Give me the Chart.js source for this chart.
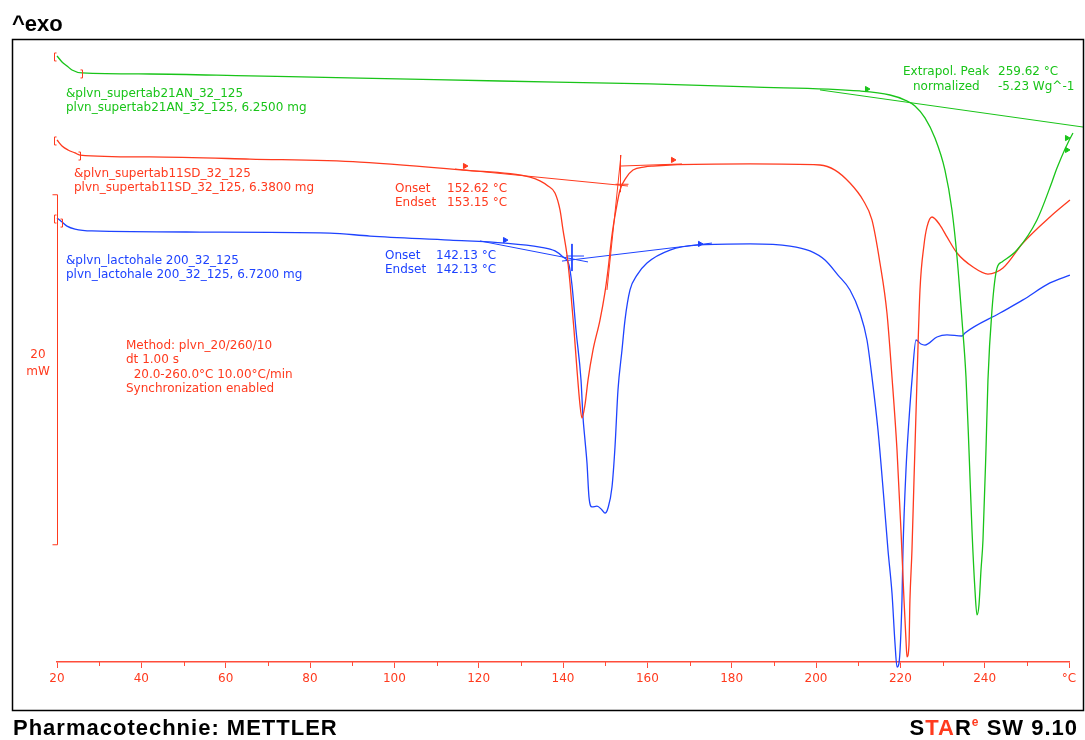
<!DOCTYPE html>
<html><head><meta charset="utf-8">
<script src="https://cdn.jsdelivr.net/npm/chart.js@4/dist/chart.umd.min.js"></script>
<style>html,body{margin:0;padding:0;background:#fff;}#wrap{width:1085px;height:740px;}</style>
</head><body><div id="wrap"><canvas id="c" width="1085" height="740"></canvas></div>
<script>
// ---- data (temperature °C, heat flow mW with display offsets) ----
const xTickLabels = ['20','40','60','80','100','120','140','160','180','200','220','240','°C'];

const greenT  = [20.0,21.19,22.37,23.56,25.93,42.05,65.77,91.86,125.06,160.63,184.35,210.43,217.54,221.10,223.47,225.84,228.21,230.58,232.24,233.44,234.62,235.57,236.28,236.99,237.70,238.18,238.65,239.13,239.60,240.31,240.78,241.73,242.92,244.10,247.66,252.40,255.96,257.15,260.94,262.84];
const greenMW = [34.63,34.29,34.06,33.83,33.66,33.60,33.49,33.37,33.20,33.03,32.86,32.63,32.40,32.11,31.77,31.09,29.94,28.11,25.83,23.14,19.54,16.29,12.11,7.54,4.11,2.69,3.26,5.26,6.97,12.11,16.11,20.11,22.51,22.86,23.54,25.26,27.43,28.23,30.23,30.86];

const redT  = [20.0,21.19,22.61,24.27,25.45,42.05,65.77,91.86,116.28,132.17,134.54,136.44,138.10,139.29,140.00,140.95,141.66,142.61,143.32,144.03,144.50,145.21,145.93,147.12,148.77,149.96,150.67,151.62,152.57,153.52,154.94,156.60,159.45,161.34,165.37,184.35,200.94,204.50,208.06,211.14,213.27,215.17,216.83,218.02,219.21,220.15,220.87,221.34,221.58,222.05,222.28,222.76,223.24,223.95,224.66,225.61,226.32,227.51,229.40,231.06,233.44,237.23,240.78,244.34,249.08,255.48,260.22];
const redMW = [29.83,29.49,29.26,29.09,28.97,28.86,28.74,28.57,28.11,27.71,27.49,27.20,26.80,25.83,24.69,23.26,21.66,18.97,16.69,14.69,13.94,14.69,16.11,17.83,19.54,21.14,22.40,24.40,25.83,26.97,27.66,28.11,28.29,28.34,28.40,28.46,28.40,28.11,27.37,26.40,25.26,22.80,19.94,16.29,12.11,7.54,3.54,1.26,0.29,0.97,3.54,6.40,10.40,16.11,21.26,23.83,24.86,25.43,24.97,24.29,23.37,22.57,22.17,22.51,23.94,25.43,26.40];

const blueT  = [20.0,21.19,22.37,24.27,28.30,53.91,84.74,94.23,113.20,126.24,134.54,138.10,140.00,141.42,142.13,143.08,144.27,144.74,145.21,145.69,146.16,146.87,148.06,149.25,149.96,150.67,151.62,152.33,153.04,153.99,154.70,155.89,157.55,159.92,165.37,172.49,184.35,193.83,198.57,202.13,205.21,208.06,210.43,212.09,213.27,214.70,216.12,217.07,218.02,218.73,219.21,219.68,220.39,220.63,221.34,222.05,222.76,223.71,224.89,225.84,228.69,231.06,234.62,235.33,243.63,249.08,255.48,260.22];
const blueMW = [25.37,25.14,24.91,24.74,24.63,24.57,24.51,24.34,24.11,23.94,23.71,23.49,23.14,22.69,21.54,18.97,16.11,14.00,12.69,11.37,9.43,8.86,8.91,8.69,8.51,8.80,10.00,12.29,15.54,17.83,19.54,21.26,22.11,22.80,23.54,23.83,23.89,23.77,23.49,22.97,22.11,21.26,19.94,18.40,16.29,13.26,9.26,6.40,3.94,1.09,-0.29,-0.06,3.54,6.40,10.97,13.83,16.11,18.40,18.17,18.11,18.57,18.69,18.63,18.80,19.94,20.69,21.66,22.11];

// evaluation constructions (baselines / tangents)
const greenBaseT = [200.94,263.31], greenBaseMW = [32.69,30.57];
const redBaseT = [114.39,155.41], redBaseMW = [28.17,27.20];
const redTanT = [153.75,150.43], redTanMW = [28.97,21.26];
const redBase2T = [153.52,168.22], redBase2MW = [28.34,28.46];
const blueBaseT = [120.31,145.93], blueBaseMW = [24.06,22.86];
const blueBase2T = [139.76,175.33], blueBase2MW = [22.91,23.94];
const blueCrossVT = [142.13,142.13], blueCrossVMW = [23.89,22.34];
const blueCrossHT = [140.71,144.98], blueCrossHMW = [23.20,23.20];
const greenFlagT = [212.09,259.52,259.52], greenFlagMW = [32.74,29.94,29.26];
const redFlagT = [116.75,166.08], redFlagMW = [28.34,28.69];
const blueFlagT = [126.24,172.49], blueFlagMW = [24.11,23.89];
const scaleBarMW = [6.7,26.7];

const GREEN='#19c419', RED='#ff3a1e', BLUE='#1e43ff', AXRED='#ff4d3a';
const zip=(a,b)=>a.map((v,i)=>({x:v,y:b[i]}));
const curve=(t,m,c,w)=>({data:zip(t,m),borderColor:c,borderWidth:w,pointRadius:0,cubicInterpolationMode:'monotone',clip:false,fill:false});
const seg=(t,m,c)=>({data:zip(t,m),borderColor:c,borderWidth:1,pointRadius:0,tension:0,clip:false,fill:false});
const flags=(t,m,c)=>({type:'scatter',data:zip(t,m),showLine:false,pointStyle:'triangle',rotation:90,pointRadius:3,backgroundColor:c,borderColor:c,borderWidth:1,clip:false});

const FONT='12px "DejaVu Sans"';
const deco={
 id:'deco',
 afterDraw(chart){
  const ctx=chart.ctx, xs=chart.scales.x, ys=chart.scales.y;
  ctx.save();
  // frame
  ctx.strokeStyle='#000'; ctx.lineWidth=1.5;
  ctx.strokeRect(12.5,39.5,1071,671);
  // minor ticks
  ctx.strokeStyle=AXRED; ctx.lineWidth=1;
  const yb=chart.chartArea.bottom;
  for(let t=30;t<260;t+=20){const px=Math.round(xs.getPixelForValue(t))+0.5;ctx.beginPath();ctx.moveTo(px,yb);ctx.lineTo(px,yb+4);ctx.stroke();}
  // scale bar 20 mW
  ctx.strokeStyle=RED;
  const bx=Math.round(xs.getPixelForValue(20))+0.5, bt=ys.getPixelForValue(scaleBarMW[1]), bb=ys.getPixelForValue(scaleBarMW[0]);
  ctx.beginPath();ctx.moveTo(bx-5,bt);ctx.lineTo(bx,bt);ctx.lineTo(bx,bb);ctx.lineTo(bx-5,bb);ctx.stroke();
  // brackets
  const br=(x,y,open)=>{x=Math.round(x)+0.5;const d=open?2:-2;ctx.beginPath();ctx.moveTo(x+d,y-4);ctx.lineTo(x,y-4);ctx.lineTo(x,y+4);ctx.lineTo(x+d,y+4);ctx.stroke();};
  [[greenT,greenMW,4],[redT,redMW,4],[blueT,blueMW,1]].forEach(([t,m,k])=>{
    br(xs.getPixelForValue(t[0])-3, ys.getPixelForValue(m[0])+1, true);
    br(xs.getPixelForValue(t[k]), ys.getPixelForValue(m[k])+1, false);
  });
  // red onset cross
  const cx=Math.round(xs.getPixelForValue(153.52))+0.5, cy=ys.getPixelForValue(27.3);
  ctx.beginPath();ctx.moveTo(cx,ys.getPixelForValue(28.97));ctx.lineTo(cx,cy+8);ctx.moveTo(cx-5,cy);ctx.lineTo(cx+8,cy);ctx.stroke();
  // texts
  ctx.font=FONT; ctx.textBaseline='middle'; ctx.textAlign='left';
  const T=(s,x,y,c)=>{ctx.fillStyle=c;ctx.fillText(s,x,y);};
  T('&plvn_supertab21AN_32_125',66,94,GREEN);
  T('plvn_supertab21AN_32_125, 6.2500 mg',66,108,GREEN);
  T('&plvn_supertab11SD_32_125',74,174,RED);
  T('plvn_supertab11SD_32_125, 6.3800 mg',74,188,RED);
  T('&plvn_lactohale 200_32_125',66,261,BLUE);
  T('plvn_lactohale 200_32_125, 6.7200 mg',66,275,BLUE);
  T('Method: plvn_20/260/10',126,346,RED);
  T('dt 1.00 s',126,360,RED);
  T('  20.0-260.0°C 10.00°C/min',126,375,RED);
  T('Synchronization enabled',126,389,RED);
  ctx.textAlign='center';
  T('20',38,355,RED); T('mW',38,372,RED);
  ctx.textAlign='left';
  T('Onset',395,189,RED); T('152.62 °C',447,189,RED);
  T('Endset',395,203,RED); T('153.15 °C',447,203,RED);
  T('Onset',385,256,BLUE); T('142.13 °C',436,256,BLUE);
  T('Endset',385,270,BLUE); T('142.13 °C',436,270,BLUE);
  T('Extrapol. Peak',903,72,GREEN); T('259.62 °C',998,72,GREEN);
  T('normalized',913,87,GREEN); T('-5.23 Wg^-1',998,87,GREEN);
  // headers / footers
  ctx.textBaseline='alphabetic';
  ctx.fillStyle='#000'; ctx.font='bold 22px "Liberation Sans"';
  ctx.fillText('^exo',12,31);
  ctx.letterSpacing='1px';
  ctx.fillText('Pharmacotechnie: METTLER',13,735);
  const parts=[['S','#000',22,0],['TA',RED,22,0],['R','#000',22,0],['e',RED,12,-9],[' SW 9.10','#000',22,0]];
  let w=0; parts.forEach(p=>{ctx.font='bold '+p[2]+'px "Liberation Sans"';w+=ctx.measureText(p[0]).width;});
  let x=1078-w;
  parts.forEach(p=>{ctx.font='bold '+p[2]+'px "Liberation Sans"';ctx.fillStyle=p[1];ctx.fillText(p[0],x,735+p[3]);x+=ctx.measureText(p[0]).width;});
  ctx.restore();
 }
};

new Chart(document.getElementById('c'),{
 type:'line',
 data:{datasets:[
  curve(greenT,greenMW,GREEN,1.3),
  curve(redT,redMW,RED,1.3),
  curve(blueT,blueMW,BLUE,1.3),
  seg(greenBaseT,greenBaseMW,GREEN),
  seg(redBaseT,redBaseMW,RED),
  seg(redTanT,redTanMW,RED),
  seg(redBase2T,redBase2MW,RED),
  seg(blueBaseT,blueBaseMW,BLUE),
  seg(blueBase2T,blueBase2MW,BLUE),
  seg(blueCrossVT,blueCrossVMW,BLUE),
  seg(blueCrossHT,blueCrossHMW,BLUE),
  flags(greenFlagT,greenFlagMW,GREEN),
  flags(redFlagT,redFlagMW,RED),
  flags(blueFlagT,blueFlagMW,BLUE)
 ]},
 options:{
  responsive:false, animation:false, devicePixelRatio:1, events:[],
  layout:{padding:{left:57,right:16,top:39,bottom:38}},
  plugins:{legend:{display:false},tooltip:{enabled:false}},
  scales:{
   x:{type:'linear',min:20,max:260,position:'bottom',
      ticks:{stepSize:20,autoSkip:false,maxRotation:0,color:RED,padding:4,font:{family:'DejaVu Sans',size:12},
             callback:(v,i)=>xTickLabels[i]},
      grid:{display:true,drawOnChartArea:false,drawTicks:true,tickLength:6,color:AXRED,lineWidth:1},
      border:{display:true,color:AXRED,width:1.5},
      afterFit:(s)=>{s.height=40;}},
   y:{type:'linear',display:false,min:0,max:35.6}
  }
 },
 plugins:[deco]
});
</script></body></html>
